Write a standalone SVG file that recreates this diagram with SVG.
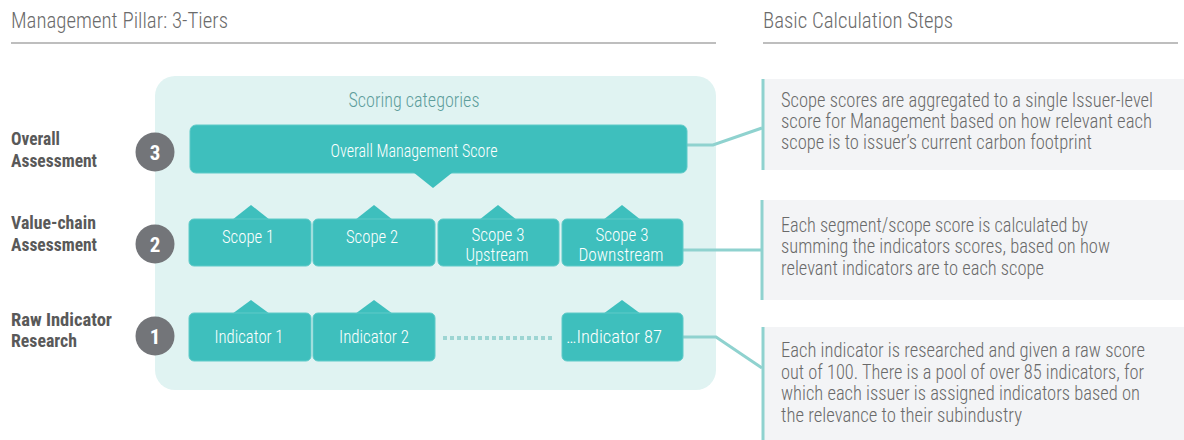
<svg xmlns="http://www.w3.org/2000/svg" width="1184" height="440" viewBox="0 0 1184 440">
<style>
text{font-family:"Roboto Condensed",Roboto,"Liberation Sans",sans-serif;}
.h{font-size:22px;font-weight:300;fill:#6b6b6b;}
.rule{stroke:#a8a8a8;stroke-width:1.5;}
.lbl{font-size:17.5px;font-weight:700;fill:#595959;}
.num{font-size:21px;font-weight:700;fill:#fff;text-anchor:middle;}
.circ{fill:#737579;}
.box{fill:#3ebfbd;stroke:#5fcac8;stroke-width:1;}
.bt{font-size:19px;font-weight:300;fill:#fff;text-anchor:middle;}
.bt2{font-size:17.5px;font-weight:300;fill:#fff;text-anchor:middle;}
.pt{font-size:19.5px;font-weight:300;fill:#6a6a6a;}
.pan{fill:#f3f4f6;}
.pb{stroke:#8fd2cf;stroke-width:3;}
.con{fill:none;stroke:#8fd2cf;stroke-width:3;}
</style>
<g id="headers">
<text class="h" x="11" y="28" textLength="217" lengthAdjust="spacingAndGlyphs">Management Pillar: 3-Tiers</text>
<line class="rule" x1="11" y1="43" x2="716" y2="43"/>
<text class="h" x="763" y="28" textLength="190" lengthAdjust="spacingAndGlyphs">Basic Calculation Steps</text>
<line class="rule" x1="763" y1="43" x2="1178" y2="43"/>
</g>
<g id="panel">
<rect x="155" y="76" width="561" height="314" rx="20" fill="#e0f3f2"/>
<text x="414" y="107" font-size="19.5" font-weight="300" fill="#5e9e9c" text-anchor="middle" textLength="131" lengthAdjust="spacingAndGlyphs">Scoring categories</text>
</g>
<g id="labels">
<text class="lbl" x="11" y="145" textLength="49" lengthAdjust="spacingAndGlyphs">Overall</text>
<text class="lbl" x="11" y="167" textLength="86" lengthAdjust="spacingAndGlyphs">Assessment</text>
<text class="lbl" x="11" y="229" textLength="85" lengthAdjust="spacingAndGlyphs">Value-chain</text>
<text class="lbl" x="11" y="251" textLength="86" lengthAdjust="spacingAndGlyphs">Assessment</text>
<text class="lbl" x="11" y="326" textLength="101" lengthAdjust="spacingAndGlyphs">Raw Indicator</text>
<text class="lbl" x="11" y="347" textLength="66" lengthAdjust="spacingAndGlyphs">Research</text>
</g>
<g id="tier3">
<circle class="circ" cx="155" cy="152" r="19.5"/>
<text class="num" x="155" y="159.5">3</text>
</g>
<g id="tier2">
<circle class="circ" cx="155" cy="244" r="19.5"/>
<text class="num" x="155" y="251.5">2</text>
</g>
<g id="tier1">
<circle class="circ" cx="155" cy="336" r="19.5"/>
<text class="num" x="155" y="343.5">1</text>
</g>
<g id="connectors">
<polyline class="con" points="687,145 713,145 762,128"/>
<line class="con" x1="683" y1="250" x2="762" y2="250"/>
<polyline class="con" points="683,337 716,337 762,368"/>
<line x1="443" y1="338" x2="552" y2="338" stroke="#9dd5d3" stroke-width="4" stroke-dasharray="4,3"/>
</g>
<g id="overall">
<rect class="box" x="190" y="125" width="497" height="48" rx="6"/>
<polygon points="413,172 453,172 433,188" fill="#3ebfbd"/>
<text class="bt" x="414" y="157" textLength="167" lengthAdjust="spacingAndGlyphs">Overall Management Score</text>
</g>
<g id="scope1">
<polygon points="232,220 251,205 270,220" fill="#3ebfbd"/>
<rect class="box" x="189" y="219" width="122" height="47" rx="5"/>
<text class="bt" x="248" y="243" textLength="52" lengthAdjust="spacingAndGlyphs">Scope 1</text>
</g>
<g id="scope2">
<polygon points="355,220 374,205 393,220" fill="#3ebfbd"/>
<rect class="box" x="313" y="219" width="122" height="47" rx="5"/>
<text class="bt" x="372" y="243" textLength="52" lengthAdjust="spacingAndGlyphs">Scope 2</text>
</g>
<g id="scope3up">
<polygon points="479,220 498,205 517,220" fill="#3ebfbd"/>
<rect class="box" x="438" y="219" width="121" height="47" rx="5"/>
<text class="bt2" x="498" y="241" textLength="53" lengthAdjust="spacingAndGlyphs">Scope 3</text>
<text class="bt2" x="497" y="261" textLength="63" lengthAdjust="spacingAndGlyphs">Upstream</text>
</g>
<g id="scope3down">
<polygon points="603,220 622,205 641,220" fill="#3ebfbd"/>
<rect class="box" x="562" y="219" width="121" height="47" rx="5"/>
<text class="bt2" x="622" y="241" textLength="53" lengthAdjust="spacingAndGlyphs">Scope 3</text>
<text class="bt2" x="621" y="261" textLength="85" lengthAdjust="spacingAndGlyphs">Downstream</text>
</g>
<g id="ind1">
<polygon points="232,314 251,300 270,314" fill="#3ebfbd"/>
<rect class="box" x="189" y="313" width="122" height="48" rx="5"/>
<text class="bt" x="249" y="343" textLength="69" lengthAdjust="spacingAndGlyphs">Indicator 1</text>
</g>
<g id="ind2">
<polygon points="355,314 374,300 393,314" fill="#3ebfbd"/>
<rect class="box" x="313" y="313" width="122" height="48" rx="5"/>
<text class="bt" x="374" y="343" textLength="70" lengthAdjust="spacingAndGlyphs">Indicator 2</text>
</g>
<g id="ind87">
<polygon points="603,314 622,300 641,314" fill="#3ebfbd"/>
<rect class="box" x="562" y="313" width="121" height="48" rx="5"/>
<text class="bt" x="614" y="343" textLength="96" lengthAdjust="spacingAndGlyphs">…Indicator 87</text>
</g>
<g id="step3">
<rect class="pan" x="762" y="79" width="422" height="91"/>
<line class="pb" x1="763" y1="79" x2="763" y2="170"/>
<text class="pt" x="781" y="107" textLength="372" lengthAdjust="spacingAndGlyphs">Scope scores are aggregated to a single Issuer-level</text>
<text class="pt" x="781" y="128" textLength="371" lengthAdjust="spacingAndGlyphs">score for Management based on how relevant each</text>
<text class="pt" x="781" y="149" textLength="311" lengthAdjust="spacingAndGlyphs">scope is to issuer’s current carbon footprint</text>
</g>
<g id="step2">
<rect class="pan" x="762" y="200" width="422" height="100"/>
<line class="pb" x1="762" y1="200" x2="762" y2="300"/>
<text class="pt" x="781" y="232" textLength="307" lengthAdjust="spacingAndGlyphs">Each segment/scope score is calculated by</text>
<text class="pt" x="781" y="253" textLength="329" lengthAdjust="spacingAndGlyphs">summing the indicators scores, based on how</text>
<text class="pt" x="781" y="275" textLength="263" lengthAdjust="spacingAndGlyphs">relevant indicators are to each scope</text>
</g>
<g id="step1">
<rect class="pan" x="762" y="327" width="422" height="113"/>
<line class="pb" x1="763" y1="327" x2="763" y2="440"/>
<text class="pt" x="781" y="357" textLength="364" lengthAdjust="spacingAndGlyphs">Each indicator is researched and given a raw score</text>
<text class="pt" x="781" y="379" textLength="363" lengthAdjust="spacingAndGlyphs">out of 100. There is a pool of over 85 indicators, for</text>
<text class="pt" x="781" y="400" textLength="359" lengthAdjust="spacingAndGlyphs">which each issuer is assigned indicators based on</text>
<text class="pt" x="781" y="422" textLength="241" lengthAdjust="spacingAndGlyphs">the relevance to their subindustry</text>
</g>
</svg>
